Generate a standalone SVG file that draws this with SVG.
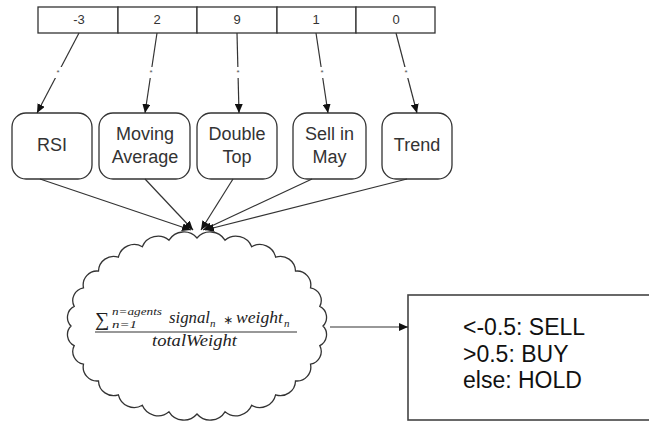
<svg xmlns="http://www.w3.org/2000/svg" width="649" height="423" viewBox="0 0 649 423">
  <defs>
    <marker id="arrow" markerUnits="userSpaceOnUse" markerWidth="10" markerHeight="8" refX="9" refY="4" orient="auto">
      <path d="M0,0 L9,4 L0,8 z" fill="#111"/>
    </marker>
    <style>
      .cell { fill: #fff; stroke: #333; stroke-width: 1.3; }
      .num { font-family: "Liberation Sans", Arial, sans-serif; font-size: 13px; fill: #333; text-anchor: middle; }
      .agent rect { fill: #fff; stroke: #333; stroke-width: 1.3; }
      .agent text { font-family: "Liberation Sans", Arial, sans-serif; font-size: 18px; fill: #333; text-anchor: middle; }
      .edge { fill: none; stroke: #333; stroke-width: 1.2; marker-end: url(#arrow); }
      .mul { font-family: "Liberation Sans", Arial, sans-serif; font-size: 8px; fill: #555; text-anchor: middle; }
      .gap { fill: #fff; }
      .math { font-family: "Liberation Serif", "DejaVu Serif", serif; font-style: italic; fill: #222; }
      .out { font-family: "Liberation Sans", Arial, sans-serif; font-size: 23px; fill: #111; }
    </style>
  </defs>

  <rect width="649" height="423" fill="#fff"/>

  <!-- signal array -->
  <g id="signals">
    <rect class="cell" x="38" y="7" width="80" height="26"/>
    <rect class="cell" x="118" y="7" width="79" height="26"/>
    <rect class="cell" x="197" y="7" width="80" height="26"/>
    <rect class="cell" x="277" y="7" width="79" height="26"/>
    <rect class="cell" x="356" y="7" width="79" height="26"/>
    <text class="num" x="79" y="24">-3</text>
    <text class="num" x="157" y="24">2</text>
    <text class="num" x="237" y="24">9</text>
    <text class="num" x="316" y="24">1</text>
    <text class="num" x="396" y="24">0</text>
  </g>

  <!-- agents -->
  <g id="rsi" class="agent">
    <rect x="12" y="113" width="80" height="66" rx="14"/>
    <text x="52" y="151">RSI</text>
  </g>
  <g id="moving-average" class="agent">
    <rect x="99" y="113" width="91" height="66" rx="14"/>
    <text x="145" y="140">Moving</text>
    <text x="145" y="163">Average</text>
  </g>
  <g id="double-top" class="agent">
    <rect x="197" y="113" width="80" height="66" rx="14"/>
    <text x="237" y="140">Double</text>
    <text x="237" y="163">Top</text>
  </g>
  <g id="sell-in-may" class="agent">
    <rect x="293" y="113" width="73" height="66" rx="14"/>
    <text x="329.5" y="140">Sell in</text>
    <text x="329.5" y="163">May</text>
  </g>
  <g id="trend" class="agent">
    <rect x="382" y="113" width="70" height="66" rx="14"/>
    <text x="417" y="151">Trend</text>
  </g>

  <!-- weighted sum -->
  <g id="aggregator">
    <path fill="#fff" stroke="#333" stroke-width="1.3" d="M323,326
      A12.3,12.3 0 0 1 319.8,345.6
      A12.9,12.9 0 0 1 310.5,364.2
      A13.9,13.9 0 0 1 295.5,380.9
      A15.1,15.1 0 0 1 275.6,394.8
      A16.2,16.2 0 0 1 251.7,405.3
      A17.1,17.1 0 0 1 225,411.8
      A17.4,17.4 0 0 1 197,414
      A17.4,17.4 0 0 1 169,411.8
      A17.1,17.1 0 0 1 142.3,405.3
      A16.2,16.2 0 0 1 118.4,394.8
      A15.1,15.1 0 0 1 98.5,380.9
      A13.9,13.9 0 0 1 83.5,364.2
      A12.9,12.9 0 0 1 74.2,345.6
      A12.3,12.3 0 0 1 71,326
      A12.3,12.3 0 0 1 74.2,306.4
      A12.9,12.9 0 0 1 83.5,287.8
      A13.9,13.9 0 0 1 98.5,271.1
      A15.1,15.1 0 0 1 118.4,257.2
      A16.2,16.2 0 0 1 142.3,246.7
      A17.1,17.1 0 0 1 169,240.2
      A17.4,17.4 0 0 1 197,238
      A17.4,17.4 0 0 1 225,240.2
      A17.1,17.1 0 0 1 251.7,246.7
      A16.2,16.2 0 0 1 275.6,257.2
      A15.1,15.1 0 0 1 295.5,271.1
      A13.9,13.9 0 0 1 310.5,287.8
      A12.9,12.9 0 0 1 319.8,306.4
      A12.3,12.3 0 0 1 323,326 Z"/>
    <text x="95" y="326" font-family="'Liberation Serif', 'DejaVu Serif', serif" font-size="20" fill="#222">∑</text>
    <text class="math" x="112" y="315" font-size="11" textLength="50" lengthAdjust="spacingAndGlyphs">n=agents</text>
    <text class="math" x="112" y="328" font-size="11" textLength="25" lengthAdjust="spacingAndGlyphs">n=1</text>
    <text class="math" x="169" y="323" font-size="17" textLength="41" lengthAdjust="spacingAndGlyphs">signal</text>
    <text class="math" x="210" y="327" font-size="11">n</text>
    <text x="228" y="324" font-family="'DejaVu Sans', sans-serif" font-size="12" fill="#222" text-anchor="middle">∗</text>
    <text class="math" x="236" y="323" font-size="17" textLength="47" lengthAdjust="spacingAndGlyphs">weight</text>
    <text class="math" x="284" y="327" font-size="11">n</text>
    <line x1="95" y1="332" x2="297" y2="332" stroke="#333" stroke-width="1.1"/>
    <text class="math" x="152" y="346" font-size="17" textLength="85" lengthAdjust="spacingAndGlyphs">totalWeight</text>
  </g>

  <!-- decision rule -->
  <g id="decision">
    <rect x="408" y="295" width="260" height="125" fill="#fff" stroke="#444" stroke-width="1.6"/>
    <text class="out" x="463" y="335">&lt;-0.5: SELL</text>
    <text class="out" x="463" y="362">&gt;0.5: BUY</text>
    <text class="out" x="463" y="388">else: HOLD</text>
  </g>

  <!-- connectors -->
  <g id="connectors">
    <path class="edge" d="M79,33 L37,113"/>
    <path class="edge" d="M157,33 L145,113"/>
    <path class="edge" d="M237,33 L239,113"/>
    <path class="edge" d="M316,33 L328,113"/>
    <path class="edge" d="M396,33 L417,113"/>
    <rect class="gap" x="54" y="67" width="8" height="11"/>
    <rect class="gap" x="147" y="67" width="8" height="11"/>
    <rect class="gap" x="234" y="67" width="8" height="11"/>
    <rect class="gap" x="318" y="67" width="8" height="11"/>
    <rect class="gap" x="402" y="67" width="8" height="11"/>
    <text class="mul" x="58" y="75">*</text>
    <text class="mul" x="151" y="75">*</text>
    <text class="mul" x="238" y="75">*</text>
    <text class="mul" x="322" y="75">*</text>
    <text class="mul" x="406" y="75">*</text>

    <path class="edge" d="M40,179 L191,230"/>
    <path class="edge" d="M145,179 L193,230"/>
    <path class="edge" d="M233,179 L201,230"/>
    <path class="edge" d="M312,179 L203,230"/>
    <path class="edge" d="M407,179 L205,230"/>

    <path class="edge" d="M330,327 L408,327"/>
  </g>
</svg>
